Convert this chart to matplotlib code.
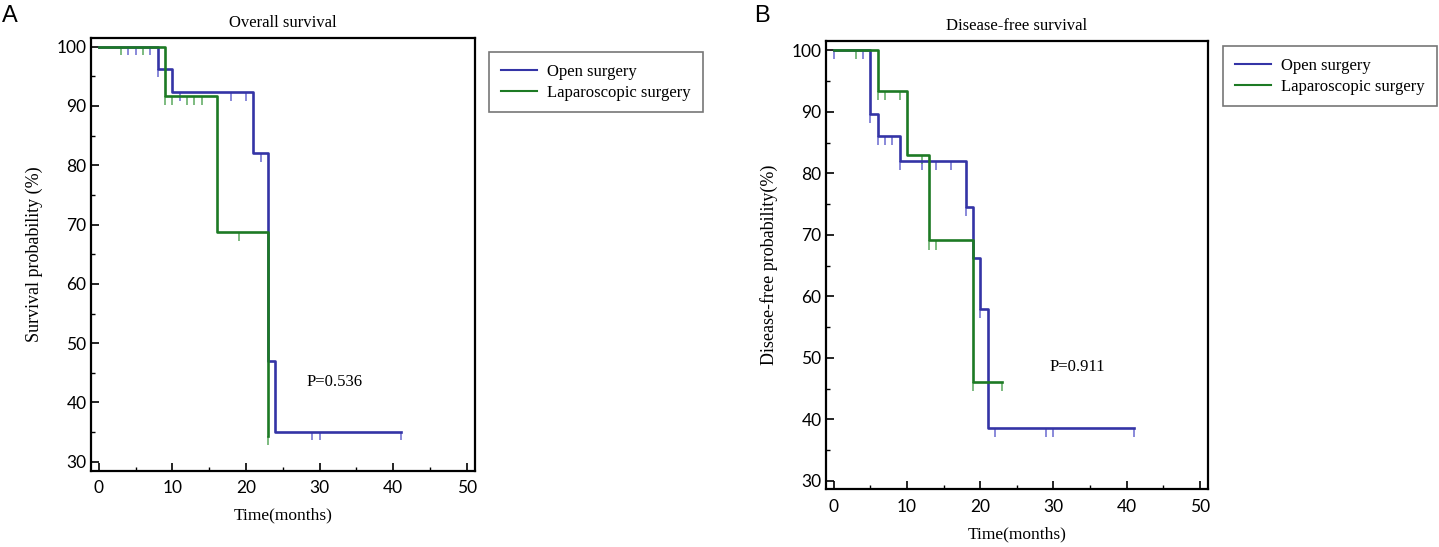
import numpy as np
import matplotlib
matplotlib.use("Agg")
import matplotlib.pyplot as plt
from matplotlib.ticker import MultipleLocator

# ---- panel A: overall survival ----
os_open_t = [0, 8, 10, 21, 23, 24, 41]
os_open_s = [100, 96.3, 92.3, 82.0, 47.0, 35.1, 35.1]
os_lap_t = [0, 9, 16, 23, 23]
os_lap_s = [100, 91.7, 68.8, 34.4, 34.4]

os_open_cens_t = [4, 5, 7, 8, 11, 18, 20, 22, 29, 30, 41]
os_open_cens_s = [100, 100, 100, 96.3, 92.3, 92.3, 92.3, 82.0, 35.1, 35.1, 35.1]
os_lap_cens_t = [3, 6, 9, 10, 12, 13, 14, 19, 23]
os_lap_cens_s = [100, 100, 91.7, 91.7, 91.7, 91.7, 91.7, 68.8, 34.4]

# ---- panel B: disease-free survival ----
dfs_open_t = [0, 5, 6, 9, 18, 19, 20, 21, 41]
dfs_open_s = [100, 89.7, 86.1, 82.0, 74.5, 66.3, 58.0, 38.6, 38.6]
dfs_lap_t = [0, 6, 10, 13, 19, 23]
dfs_lap_s = [100, 93.4, 83.0, 69.1, 46.1, 46.1]

dfs_open_cens_t = [0, 4, 5, 6, 7, 8, 9, 12, 14, 16, 18, 20, 22, 29, 30, 41]
dfs_open_cens_s = [100, 100, 89.7, 86.1, 86.1, 86.1, 82.0, 82.0, 82.0, 82.0,
                   74.5, 58.0, 38.6, 38.6, 38.6, 38.6]
dfs_lap_cens_t = [3, 6, 7, 9, 12, 13, 14, 19, 23]
dfs_lap_cens_s = [100, 93.4, 93.4, 93.4, 83.0, 69.1, 69.1, 46.1, 46.1]

labels = ["Open surgery", "Laparoscopic surgery"]
BLUE = "#3434a6"
GREEN = "#1d7a24"
BLUE_TICK = "#6a6ad0"
GREEN_TICK = "#5aa85e"
SERIF = "Liberation Serif"

plt.rcParams["font.family"] = SERIF

fig = plt.figure(figsize=(14.39, 5.47), dpi=100)
axA = fig.add_axes([0.0630, 0.1395, 0.2671, 0.7905])
axB = fig.add_axes([0.5738, 0.1055, 0.2657, 0.8195])


def draw_panel(ax, open_t, open_s, lap_t, lap_s,
               oc_t, oc_s, lc_t, lc_s, title, ylabel, ylim, ptext, ppos):
    l1, = ax.step(open_t, open_s, where="post", color=BLUE, lw=1.9, zorder=3)
    l2, = ax.step(lap_t, lap_s, where="post", color=GREEN, lw=1.9, zorder=3)
    ax.vlines(oc_t, np.array(oc_s) - 1.5, oc_s, color=BLUE_TICK, lw=1.1, zorder=2)
    ax.vlines(lc_t, np.array(lc_s) - 1.5, lc_s, color=GREEN_TICK, lw=1.1, zorder=2)

    ax.set_xlim(-1.1, 51.1)
    ax.set_ylim(*ylim)
    ax.xaxis.set_major_locator(MultipleLocator(10))
    ax.xaxis.set_minor_locator(MultipleLocator(5))
    ax.yaxis.set_major_locator(MultipleLocator(10))
    ax.yaxis.set_minor_locator(MultipleLocator(5))
    ax.tick_params(which="major", direction="in", length=6, width=1.2,
                   labelsize=12.5)
    ax.tick_params(axis="y", which="major", pad=3)
    ax.tick_params(axis="x", which="major", pad=7)
    ax.tick_params(which="minor", direction="in", length=3, width=1.0)
    for lab in ax.get_xticklabels() + ax.get_yticklabels():
        lab.set_fontfamily("Lato")
    for sp in ax.spines.values():
        sp.set_linewidth(1.6)

    ax.set_title(title, fontsize=12, pad=8)
    ax.set_xlabel("Time(months)", fontsize=12.5, labelpad=8)
    ax.set_ylabel(ylabel, fontsize=13, labelpad=10)
    ax.text(ppos[0], ppos[1], ptext, fontsize=12, ha="left", va="center")
    return l1, l2


hA = draw_panel(axA, os_open_t, os_open_s, os_lap_t, os_lap_s,
                os_open_cens_t, os_open_cens_s, os_lap_cens_t, os_lap_cens_s,
                "Overall survival", "Survival probability (%)",
                (28.5, 101.4), "P=0.536", (28.2, 43.5))
hB = draw_panel(axB, dfs_open_t, dfs_open_s, dfs_lap_t, dfs_lap_s,
                dfs_open_cens_t, dfs_open_cens_s, dfs_lap_cens_t, dfs_lap_cens_s,
                "Disease-free survival", "Disease-free probability(%)",
                (28.65, 101.5), "P=0.911", (29.5, 48.5))

for handles, x0, y0 in [(hA, 489 / 1439, 1 - 52 / 547), (hB, 1223 / 1439, 1 - 46 / 547)]:
    leg = fig.legend(handles, labels, loc="upper left", bbox_to_anchor=(x0, y0),
                     borderaxespad=0, fontsize=12, frameon=True, fancybox=False,
                     handlelength=2.2, borderpad=0.7, labelspacing=0.3,
                     handletextpad=0.6)
    leg.get_frame().set_edgecolor("#555555")
    leg.get_frame().set_linewidth(1.2)
    for line in leg.get_lines():
        line.set_linewidth(1.5)

fig.text(2 / 1439, 1 - 16 / 547, "A", fontsize=17, family="Liberation Sans", va="center")
fig.text(754 / 1439, 1 - 16 / 547, "B", fontsize=17, family="Liberation Sans", va="center")

fig.savefig("out.png", dpi=100)
